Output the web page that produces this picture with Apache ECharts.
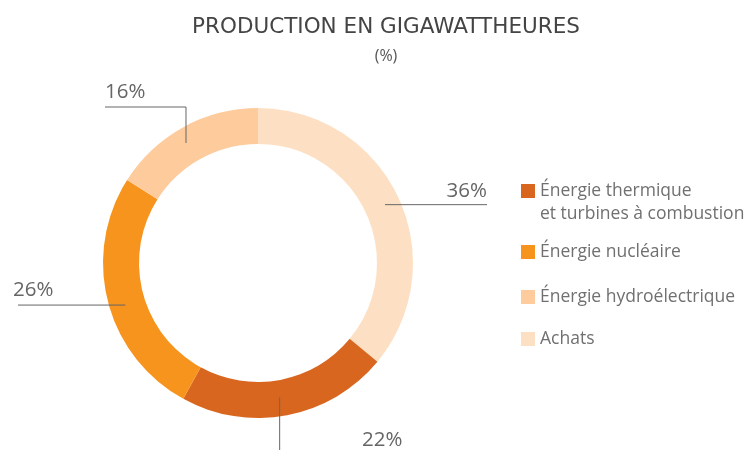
<!DOCTYPE html>
<html>
<head>
<meta charset="utf-8">
<script src="https://cdn.jsdelivr.net/npm/echarts@6/dist/echarts.min.js"></script>
<style>
  html, body { margin: 0; padding: 0; background: #fff; }
  #chart { width: 749px; height: 450px; }
</style>
</head>
<body>
<div id="chart"></div>
<script>
// slices, clockwise from 12 o'clock
const sliceNames = ['Achats', 'Énergie thermique\net turbines à combustion', 'Énergie nucléaire', 'Énergie hydroélectrique'];
const sliceValues = [36, 22, 26, 16];
const sliceColors = ['#fde0c3', '#d9661f', '#f7941d', '#fdcb9c'];
// legend order, top to bottom (icon centre y)
const legendNames = ['Énergie thermique\net turbines à combustion', 'Énergie nucléaire', 'Énergie hydroélectrique', 'Achats'];
const legendCentres = [191, 252, 297, 339];

const cx = 258, cy = 263, rIn = 119, rOut = 155;
const rMid = (rIn + rOut) / 2;

const chart = echarts.init(document.getElementById('chart'));

// each label gets its own leader line shape
function placeLabel (p) {
  const e = p.labelLinePoints[0];
  const k = rMid / rOut;
  const m = [cx + (e[0] - cx) * k, cy + (e[1] - cy) * k];
  switch (p.dataIndex) {
    case 0:
      m[0] += 3;
      return { x: 487, y: m[1] - 3, align: 'right', verticalAlign: 'bottom',
        labelLinePoints: [m, [487, m[1]], [487, m[1]]] };
    case 1:
      m[0] -= 4;
      return { x: 362, y: 440, align: 'left', verticalAlign: 'middle',
        labelLinePoints: [m, [m[0], 452], [m[0], 452]] };
    case 2:
      m[1] += 8;
      return { x: 13, y: m[1] - 4, align: 'left', verticalAlign: 'bottom',
        labelLinePoints: [m, [18, m[1]], [18, m[1]]] };
    default:
      m[0] -= 6;
      return { x: 105, y: 103, align: 'left', verticalAlign: 'bottom',
        labelLinePoints: [m, [m[0], 107], [105, 107]] };
  }
}

const legendText = { fontFamily: 'Open Sans', fontSize: 17.5, color: '#707070', lineHeight: 23 };
const pieData = sliceNames.map((n, i) => ({ name: n, value: sliceValues[i] }));

chart.setOption({
  animation: false,
  color: sliceColors,
  title: {
    text: 'PRODUCTION EN GIGAWATTHEURES',
    subtext: '(%)',
    left: 381,
    textAlign: 'center',
    top: 11,
    itemGap: 10,
    textStyle: { fontFamily: 'DejaVu Sans', fontSize: 21.5, fontWeight: 'normal', color: '#444' },
    subtextStyle: { fontFamily: 'Open Sans', fontSize: 16, color: '#555' }
  },
  legend: legendNames.map((n, i) => ({
    orient: 'vertical',
    left: 521,
    // first entry: blank leading line so the text starts beside the square
    top: i === 0 ? legendCentres[0] - 34.5 : legendCentres[i] - 11.5,
    padding: 0,
    icon: 'rect',
    itemWidth: 14,
    itemHeight: 14,
    data: [n],
    selectedMode: false,
    formatter: i === 0 ? (name) => '\n' + name : '{name}',
    textStyle: legendText
  })),
  series: [{
    type: 'pie',
    z: 2,
    center: [cx, cy],
    radius: [rIn, rOut],
    startAngle: 90,
    clockwise: true,
    silent: true,
    data: pieData,
    label: { show: false },
    labelLine: { show: false }
  }, {
    // transparent copy that only carries the labels and leader lines on top
    type: 'pie',
    z: 3,
    center: [cx, cy],
    radius: [rIn, rOut],
    startAngle: 90,
    clockwise: true,
    silent: true,
    data: pieData,
    itemStyle: { color: 'rgba(0,0,0,0)' },
    label: {
      show: true,
      formatter: '{c}%',
      fontFamily: 'Open Sans',
      fontSize: 20.5,
      color: '#666'
    },
    labelLine: {
      show: true,
      length: 10,
      length2: 10,
      lineStyle: { color: '#666', width: 1 }
    },
    labelLayout: placeLabel
  }]
});
</script>
</body>
</html>
